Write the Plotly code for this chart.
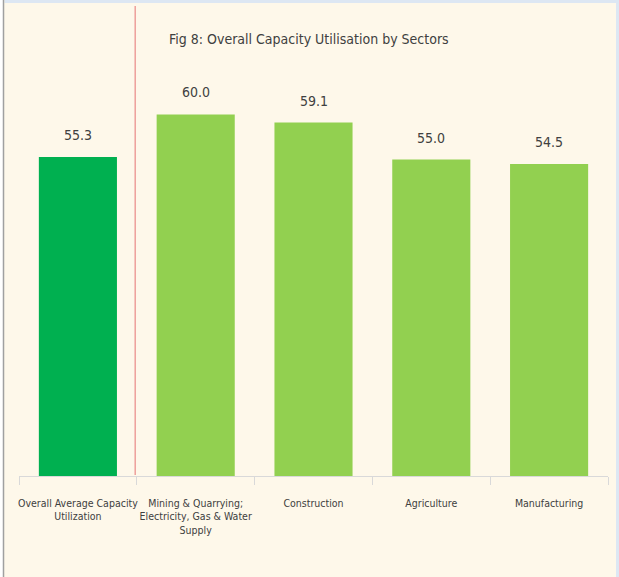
import plotly.graph_objects as go

categories = [
    "Overall Average Capacity<br>Utilization",
    "Mining & Quarrying;<br>Electricity, Gas & Water<br>Supply",
    "Construction",
    "Agriculture",
    "Manufacturing",
]
values = [55.3, 60.0, 59.1, 55.0, 54.5]
bar_colors = ["#00B050", "#92D050", "#92D050", "#92D050", "#92D050"]
title_text = "Fig 8: Overall Capacity Utilisation by Sectors"

W, H = 619, 577
L, R, T, B = 19, 11, 5, 101
FONT = "DejaVu Sans Condensed, Liberation Sans Narrow, sans-serif"
TXT = "#404040"
CREAM = "#FEF8EA"

fig = go.Figure()
fig.add_trace(go.Bar(
    x=categories,
    y=values,
    marker=dict(color=bar_colors, line=dict(width=0)),
    hoverinfo="skip",
))

annotations = []
for c, v in zip(categories, values):
    annotations.append(dict(
        x=c, y=v, xref="x", yref="y", text=f"{v:.1f}", showarrow=False,
        yanchor="bottom", yshift=12, font=dict(family=FONT, size=14, color=TXT),
    ))

pw = W - L - R
ph = H - T - B

def px_x(p):
    return (p - L) / pw

def px_y(p):
    return (H - B - p) / ph

shapes = [
    dict(type="line", xref="x", yref="paper", x0=0.486, x1=0.486,
         y0=px_y(475), y1=px_y(6), line=dict(color="#E57373", width=1)),
    dict(type="rect", xref="paper", yref="paper", x0=px_x(0), x1=px_x(3),
         y0=px_y(H), y1=px_y(0), fillcolor="white", line=dict(width=0), layer="below"),
    dict(type="line", xref="paper", yref="paper", x0=px_x(3.5), x1=px_x(3.5),
         y0=px_y(H), y1=px_y(0), line=dict(color="#A0A0A0", width=1.5)),
    dict(type="rect", xref="paper", yref="paper", x0=px_x(4.5), x1=px_x(W),
         y0=px_y(3), y1=px_y(0), fillcolor="#DDE7F3", line=dict(width=0), layer="below"),
    dict(type="rect", xref="paper", yref="paper", x0=px_x(616), x1=px_x(W),
         y0=px_y(H), y1=px_y(0), fillcolor="#DDE7F3", line=dict(width=0), layer="below"),
]

fig.update_layout(
    width=W, height=H,
    margin=dict(l=L, r=R, t=T, b=B, pad=0, autoexpand=False),
    paper_bgcolor=CREAM, plot_bgcolor=CREAM,
    showlegend=False,
    bargap=0.337,
    title=dict(text=title_text, x=0.499, xref="container", xanchor="center",
               y=1 - 39 / H, yref="container", yanchor="middle",
               font=dict(family=FONT, size=14, color=TXT)),
    xaxis=dict(
        type="category", tickson="boundaries",
        range=[-0.5, len(categories) - 0.5], tickangle=0, automargin=False,
        showgrid=False, zeroline=False, showline=True, linecolor="#D9D9D9", linewidth=1,
        ticks="outside", ticklen=8, tickcolor="#D9D9D9", tickwidth=1,
        ticklabelstandoff=17,
        tickfont=dict(family=FONT, size=10.5, color=TXT),
    ),
    yaxis=dict(range=[20, 72.1], visible=False, showgrid=False, zeroline=False),
    annotations=annotations,
    shapes=shapes,
)

fig.write_html(
    "out.html",
    config={"displayModeBar": False},
    post_script="document.body.style.margin='0';document.body.style.overflow='hidden';",
)
